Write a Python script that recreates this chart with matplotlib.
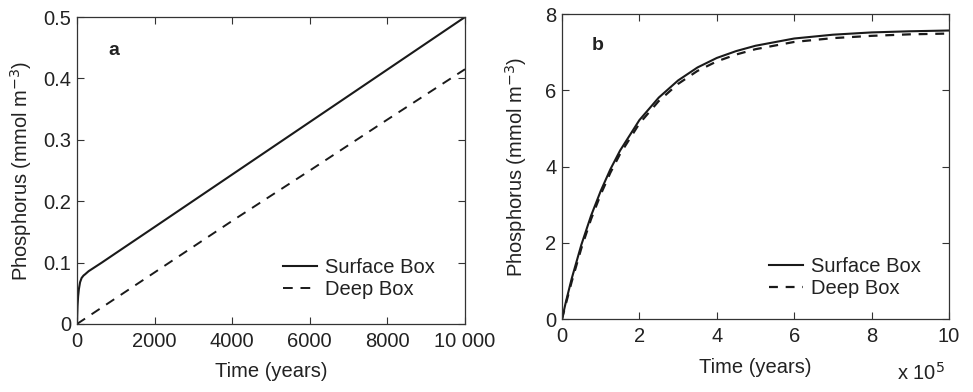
import matplotlib
matplotlib.use("Agg")
import matplotlib.pyplot as plt

plt.rcParams['font.family'] = ['Liberation Sans', 'DejaVu Sans']

# ---- Panel a data (years, mmol m^-3) ----
t_a_surface = [0, 15, 30, 50, 80, 120, 170, 210, 300, 640, 1000, 2000, 4000, 6000, 8000, 10000]
p_a_surface = [0, 0.030, 0.045, 0.057, 0.068, 0.075, 0.079, 0.081, 0.086, 0.100, 0.1154, 0.158, 0.2435, 0.329, 0.4145, 0.500]
t_a_deep = [0, 2000, 4000, 6000, 8000, 10000]
p_a_deep = [0, 0.084, 0.168, 0.250, 0.333, 0.415]

# ---- Panel b data (years, mmol m^-3) ----
t_b = [0, 0.1e5, 0.25e5, 0.5e5, 0.75e5, 1.0e5, 1.25e5, 1.5e5, 2.0e5, 2.5e5, 3.0e5, 3.5e5,
       4.0e5, 4.5e5, 5.0e5, 6.0e5, 7.0e5, 8.0e5, 9.0e5, 10.0e5]
p_b_surface = [0, 0.45, 1.06, 1.95, 2.71, 3.36, 3.93, 4.42, 5.22, 5.81, 6.26, 6.60,
               6.85, 7.03, 7.17, 7.36, 7.46, 7.52, 7.55, 7.57]
p_b_deep = [0, 0.40, 0.98, 1.86, 2.62, 3.27, 3.84, 4.33, 5.13, 5.72, 6.17, 6.51,
            6.76, 6.94, 7.08, 7.27, 7.37, 7.43, 7.47, 7.49]

xticks_a = [0, 2000, 4000, 6000, 8000, 10000]
xticklabels_a = ['0', '2000', '4000', '6000', '8000', '10 000']
yticks_a = [0, 0.1, 0.2, 0.3, 0.4, 0.5]
yticklabels_a = ['0', '0.1', '0.2', '0.3', '0.4', '0.5']
xticks_b = [0, 2e5, 4e5, 6e5, 8e5, 10e5]
xticklabels_b = ['0', '2', '4', '6', '8', '10']
yticks_b = [0, 2, 4, 6, 8]
yticklabels_b = ['0', '2', '4', '6', '8']

txt = '#222222'
fs = 14.5

fig = plt.figure(figsize=(9.73, 3.92), dpi=100)
ax_a = fig.add_axes([0.0791, 0.1735, 0.3988, 0.783])
ax_b = fig.add_axes([0.5776, 0.186, 0.3977, 0.778])

def style(ax):
    for s in ax.spines.values():
        s.set_color('#333333')
        s.set_linewidth(0.9)
    ax.tick_params(direction='in', length=5, width=0.8, top=True, right=True,
                   colors='#333333', labelcolor=txt, labelsize=fs)
    ax.tick_params(axis='x', pad=6)
    ax.tick_params(axis='y', pad=4)

# Panel a
ax_a.plot(t_a_surface, p_a_surface, color='#1a1a1a', lw=1.5, label='Surface Box')
ax_a.plot(t_a_deep, p_a_deep, color='#1a1a1a', lw=1.4, dashes=(5, 4), label='Deep Box')
ax_a.set_xlim(0, 10000)
ax_a.set_ylim(0, 0.5)
ax_a.set_xticks(xticks_a)
ax_a.set_xticklabels(xticklabels_a)
ax_a.set_yticks(yticks_a)
ax_a.set_yticklabels(yticklabels_a)
style(ax_a)
ax_a.set_xlabel('Time (years)', fontsize=fs, color=txt, labelpad=8)
ax_a.set_ylabel('Phosphorus (mmol m$^{-3}$)', fontsize=fs, color=txt, labelpad=7)
ax_a.text(0.08, 0.89, 'a', transform=ax_a.transAxes, fontsize=14, fontweight='bold',
          color=txt, va='center', ha='left')
ax_a.legend(loc='upper left', bbox_to_anchor=(0.53, 0.215), frameon=False, fontsize=fs,
            handlelength=1.7, handletextpad=0.4, labelspacing=0.15, borderpad=0,
            borderaxespad=0, labelcolor=txt)

# Panel b
ax_b.plot(t_b, p_b_surface, color='#1a1a1a', lw=1.5, label='Surface Box')
ax_b.plot(t_b, p_b_deep, color='#1a1a1a', lw=1.6, dashes=(4, 3.5), label='Deep Box')
ax_b.set_xlim(0, 10e5)
ax_b.set_ylim(0, 8)
ax_b.set_xticks(xticks_b)
ax_b.set_xticklabels(xticklabels_b)
ax_b.set_yticks(yticks_b)
ax_b.set_yticklabels(yticklabels_b)
style(ax_b)
ax_b.set_xlabel('Time (years)', fontsize=fs, color=txt, labelpad=8)
ax_b.set_ylabel('Phosphorus (mmol m$^{-3}$)', fontsize=fs, color=txt, labelpad=12)
ax_b.text(0.078, 0.898, 'b', transform=ax_b.transAxes, fontsize=14, fontweight='bold',
          color=txt, va='center', ha='left')
ax_b.text(0.99, -0.175, 'x 10$^5$', transform=ax_b.transAxes, fontsize=fs, color=txt,
          ha='right', va='center')
ax_b.legend(loc='upper left', bbox_to_anchor=(0.535, 0.205), frameon=False, fontsize=fs,
            handlelength=1.7, handletextpad=0.4, labelspacing=0.15, borderpad=0,
            borderaxespad=0, labelcolor=txt)

fig.savefig('out.png', dpi=100)
